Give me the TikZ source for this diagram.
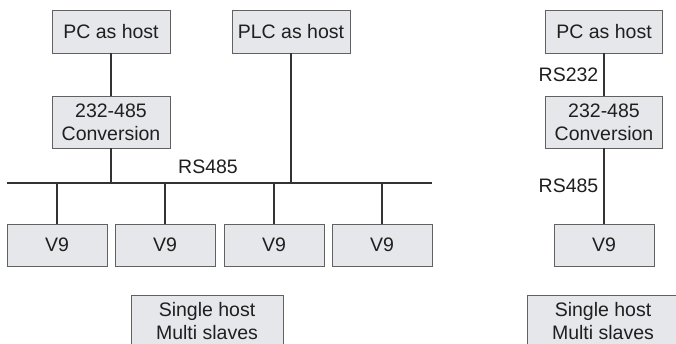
\documentclass[tikz,border=0pt]{standalone}
\usepackage{fontspec}
\setmainfont{Liberation Sans}
\begin{document}
\begin{tikzpicture}[x=1pt,y=-1pt,
  box/.style={draw=black!62, line width=0.9pt, fill=boxfill, inner sep=0pt, align=center,
    font=\fontsize{19.5}{23}\selectfont, text=black!88},
  wire/.style={draw=black!80, line width=1.4pt},
  lbl/.style={font=\fontsize{19.5}{23}\selectfont, text=black!88, inner sep=0pt}]
\definecolor{boxfill}{HTML}{E5E7EB}
\useasboundingbox (0,0) rectangle (676,343);
% left network
\node[box, minimum width=118pt, minimum height=43pt] (pc1) at (111,31.5) {PC as host};
\node[box, minimum width=118pt, minimum height=43pt] (plc) at (291,31.5) {PLC as host};
\node[box, minimum width=118pt, minimum height=52pt] (conv1) at (111,122) {232-485\\Conversion};
\coordinate (busL) at (7,183);
\coordinate (busR) at (432,183);
\node[box, minimum width=100pt, minimum height=42pt] (v1) at (57,245) {V9};
\node[box, minimum width=100pt, minimum height=42pt] (v2) at (165,245) {V9};
\node[box, minimum width=100pt, minimum height=42pt] (v3) at (274,245) {V9};
\node[box, minimum width=100pt, minimum height=42pt] (v4) at (382,245) {V9};
\node[box, minimum width=152pt, minimum height=52pt] (s1) at (207,321) {Single host\\Multi slaves};
\node[lbl] (rs485a) at (208,167) {RS485};
\draw[wire] (busL) -- (busR);
\draw[wire] (pc1) -- (conv1);
\draw[wire] (conv1.south) -- (conv1.south |- busL);
\draw[wire] (plc.south) -- (plc.south |- busL);
\foreach \v in {v1,v2,v3,v4} \draw[wire] (\v.north) -- (\v.north |- busL);
% right network
\node[box, minimum width=117pt, minimum height=43pt] (pc2) at (604,31.5) {PC as host};
\node[box, minimum width=117pt, minimum height=52pt] (conv2) at (604,122) {232-485\\Conversion};
\node[box, minimum width=100pt, minimum height=42pt] (v5) at (604,245) {V9};
\node[box, minimum width=152pt, minimum height=52pt] (s2) at (603,321) {Single host\\Multi slaves};
\draw[wire] (pc2) -- (conv2) node[lbl, midway, left=5pt] (rs232) {RS232};
\draw[wire] (conv2) -- (v5) node[lbl, pos=0.5, left=5pt] (rs485b) {RS485};
\end{tikzpicture}
\end{document}
